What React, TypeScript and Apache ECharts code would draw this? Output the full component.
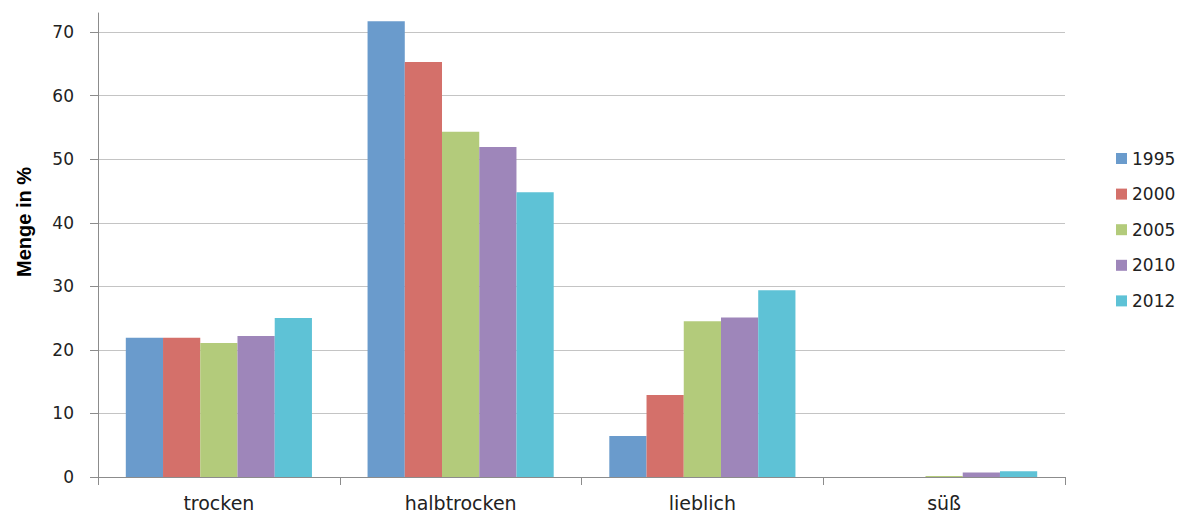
import React, { useEffect, useRef } from "react";
import * as echarts from "echarts";

const categories = ["trocken", "halbtrocken", "lieblich", "süß"];
const years = ["1995", "2000", "2005", "2010", "2012"];
const v1995 = [21.9, 71.7, 6.45, 0];
const v2000 = [21.9, 65.3, 12.9, 0];
const v2005 = [21.1, 54.3, 24.5, 0.15];
const v2010 = [22.2, 51.9, 25.1, 0.7];
const v2012 = [25.0, 44.8, 29.4, 0.9];
const seriesValues = [v1995, v2000, v2005, v2010, v2012];
const colors = ["#6A9BCC", "#D4706A", "#B3CB7B", "#9E86BA", "#5EC2D6"];

export default function App() {
  const ref = useRef<HTMLDivElement>(null);
  useEffect(() => {
    if (!ref.current) return;
    const chart = echarts.init(ref.current, null, { renderer: "svg" });
    const font = "'DejaVu Sans', sans-serif";
    chart.setOption({
      animation: false,
      backgroundColor: "#ffffff",
      grid: { left: 98, right: 121, top: 13, bottom: 38, containLabel: false },
      legend: {
        orient: "vertical",
        left: 1111,
        top: 145,
        itemWidth: 11,
        itemHeight: 11,
        itemGap: 18.6,
        icon: "rect",
        textStyle: { fontFamily: font, fontSize: 17, color: "#222" },
        data: years,
      },
      xAxis: {
        type: "category",
        data: categories,
        axisLine: { lineStyle: { color: "#8c8c8c", width: 1 } },
        axisTick: { show: true, length: 8, lineStyle: { color: "#8c8c8c" } },
        axisLabel: { fontFamily: font, fontSize: 19, color: "#222", margin: 16 },
      },
      yAxis: {
        type: "value",
        min: 0,
        max: 73,
        interval: 10,
        axisLine: { show: true, lineStyle: { color: "#8c8c8c", width: 1 } },
        axisTick: { show: true, length: 8, lineStyle: { color: "#8c8c8c" } },
        axisLabel: {
          fontFamily: font,
          fontSize: 17,
          color: "#222",
          margin: 24,
          showMaxLabel: false,
        },
        splitLine: { show: true, showMaxLine: false, lineStyle: { color: "#c4c4c4", width: 1 } },
      },
      graphic: [
        {
          type: "text",
          x: 24,
          y: 222,
          rotation: Math.PI / 2,
          style: {
            text: "Menge in %",
            fontFamily: "'Liberation Sans Narrow', 'Liberation Sans', sans-serif",
            fontWeight: "bold",
            fontSize: 20,
            fill: "#000",
            align: "center",
            verticalAlign: "middle",
          },
        },
      ],
      series: years.map((y, i) => ({
        name: y,
        type: "bar",
        data: seriesValues[i],
        barGap: "0%",
        barCategoryGap: "23%",
        itemStyle: { color: colors[i] },
      })),
    });
    return () => chart.dispose();
  }, []);
  return (
    <div
      ref={ref}
      style={{ position: "fixed", left: 0, top: 0, width: 1186, height: 515 }}
    />
  );
}
